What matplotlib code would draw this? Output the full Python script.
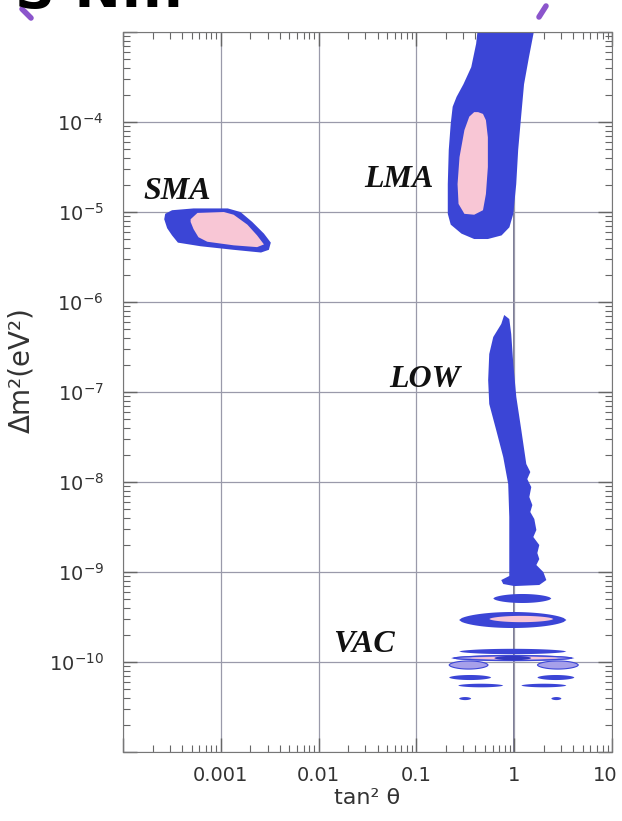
import numpy as np
import matplotlib
matplotlib.use('Agg')
import matplotlib.pyplot as plt
from matplotlib.lines import Line2D
from matplotlib.transforms import ScaledTranslation
from matplotlib.ticker import FixedLocator, NullFormatter, LogLocator

plt.rcParams['font.family'] = ['DejaVu Sans']

# ---- allowed regions as log10(tan^2 theta), log10(dm^2) ----
sma_out_lx = [-3.57, -3.50, -3.28, -2.93, -2.80, -2.68, -2.56, -2.49, -2.51, -2.59, -2.87, -3.21, -3.44, -3.50, -3.55, -3.58]
sma_out_ly = [-5.02, -4.98, -4.96, -4.96, -5.00, -5.11, -5.24, -5.34, -5.42, -5.45, -5.42, -5.38, -5.34, -5.26, -5.18, -5.08]
sma_in_lx = [-3.31, -3.24, -2.97, -2.87, -2.73, -2.63, -2.56, -2.63, -2.87, -3.14, -3.23, -3.28, -3.31]
sma_in_ly = [-5.08, -5.01, -5.00, -5.03, -5.14, -5.26, -5.36, -5.39, -5.37, -5.33, -5.28, -5.19, -5.11]

lma_out_lx = [-0.36, -0.39, -0.44, -0.52, -0.59, -0.63, -0.65, -0.67, -0.68, -0.68, -0.65, -0.54, -0.41, -0.27,
              -0.13, -0.05, -0.01, 0.00, 0.02, 0.04, 0.07, 0.10, 0.15, 0.23]
lma_out_ly = [-2.83, -3.13, -3.39, -3.58, -3.72, -3.83, -4.02, -4.31, -4.69, -5.02, -5.14, -5.24, -5.30, -5.30,
              -5.26, -5.17, -5.02, -4.91, -4.69, -4.31, -3.94, -3.58, -3.28, -2.83]
lma_in_lx = [-0.37, -0.32, -0.29, -0.27, -0.27, -0.29, -0.32, -0.41, -0.51, -0.57, -0.58, -0.56, -0.51, -0.46, -0.41]
lma_in_ly = [-3.89, -3.91, -3.98, -4.17, -4.50, -4.80, -4.98, -5.03, -5.02, -4.91, -4.69, -4.39, -4.09, -3.94, -3.89]

low_lx = [-0.103, -0.051, -0.031, -0.010, 0.021, 0.072, 0.123, 0.164, 0.133, 0.174, 0.154, 0.185, 0.164, 0.205,
          0.226, 0.195, 0.256, 0.236, 0.256, 0.226, 0.297, 0.328, 0.256, 0.0, -0.113, -0.133, -0.051, -0.051,
          -0.051, -0.062, -0.113, -0.185, -0.256, -0.267, -0.256, -0.215, -0.133]
low_ly = [-6.144, -6.189, -6.356, -6.689, -7.056, -7.422, -7.8, -7.889, -7.967, -8.056, -8.167, -8.256, -8.333,
          -8.411, -8.533, -8.611, -8.7, -8.789, -8.856, -8.922, -9.0, -9.089, -9.144, -9.156, -9.133, -9.089,
          -9.044, -8.722, -8.389, -8.022, -7.722, -7.422, -7.133, -6.867, -6.578, -6.389, -6.244]

# VAC islands: left end, right end, centre, half thickness (log10 units)
vac_blue_l = [-0.215, -0.564, -0.564, -0.646, -0.667, 0.236, -0.574, 0.072, -0.564, 0.379]
vac_blue_r = [0.379, 0.533, 0.533, 0.615, -0.236, 0.615, -0.113, 0.533, -0.441, 0.482]
vac_blue_m = [-9.294, -9.533, -9.883, -9.956, -10.172, -10.172, -10.261, -10.261, -10.406, -10.406]
vac_blue_h = [0.05, 0.089, 0.03, 0.035, 0.028, 0.028, 0.02, 0.02, 0.017, 0.017]

vac_lilac_l = [-0.62, -0.667, 0.236]
vac_lilac_r = [0.59, -0.267, 0.656]
vac_lilac_m = [-9.956, -10.033, -10.033]
vac_lilac_h = [0.025, 0.045, 0.045]

vac_pink_l = [-0.256, -0.45]
vac_pink_r = [0.400, 0.45]
vac_pink_m = [-9.522, -9.956]
vac_pink_h = [0.035, 0.015]

vac_dark_l = [-0.205]
vac_dark_r = [0.174]
vac_dark_m = [-9.956]
vac_dark_h = [0.025]

x_ticks = [1e-4, 1e-3, 1e-2, 1e-1, 1, 10]
x_labels = ['', '0.001', '0.01', '0.1', '1', '10']
y_ticks = [10.0 ** k for k in range(-11, -2)]
y_labels = ['', '$10^{-10}$', '$10^{-9}$', '$10^{-8}$', '$10^{-7}$', '$10^{-6}$', '$10^{-5}$', '$10^{-4}$', '']

blue = '#3b45d6'
pink = '#f8c6d5'
lilac = '#a7a0ea'


def lens(l, r, m, h, n=40):
    u = np.linspace(-1, 1, n)
    w = (1 - u ** 2) ** 0.6
    xs = l + (np.concatenate([u, u[::-1]]) + 1) / 2 * (r - l)
    ys = np.concatenate([m + h * w, m - h * w[::-1]])
    return 10 ** xs, 10 ** ys


fig = plt.figure(figsize=(6.22, 8.21), dpi=100)
ax = fig.add_axes([0.198, 0.084, 0.786, 0.877])
ax.set_xscale('log')
ax.set_yscale('log')
ax.set_xlim(1e-4, 10)
ax.set_ylim(1e-11, 1e-3)

ax.grid(which='major', color='#9a9aaa', lw=0.9, zorder=0)
ax.axvline(1, color='#555577', lw=1.1, zorder=0.5)

ax.fill(10 ** np.array(sma_out_lx), 10 ** np.array(sma_out_ly), color=blue, lw=0, zorder=2)
ax.fill(10 ** np.array(sma_in_lx), 10 ** np.array(sma_in_ly), color=pink, lw=0, zorder=3)
ax.fill(10 ** np.array(lma_out_lx), 10 ** np.array(lma_out_ly), color=blue, lw=0, zorder=2)
ax.fill(10 ** np.array(lma_in_lx), 10 ** np.array(lma_in_ly), color=pink, lw=0, zorder=3)
ax.fill(10 ** np.array(low_lx), 10 ** np.array(low_ly), color=blue, lw=0, zorder=2)

for l, r, m, h in zip(vac_blue_l, vac_blue_r, vac_blue_m, vac_blue_h):
    xs, ys = lens(l, r, m, h)
    ax.fill(xs, ys, color=blue, lw=0, zorder=2)
for l, r, m, h in zip(vac_lilac_l, vac_lilac_r, vac_lilac_m, vac_lilac_h):
    xs, ys = lens(l, r, m, h)
    ax.fill(xs, ys, facecolor=lilac, edgecolor=blue, lw=0.8, zorder=3)
for l, r, m, h in zip(vac_pink_l, vac_pink_r, vac_pink_m, vac_pink_h):
    xs, ys = lens(l, r, m, h)
    ax.fill(xs, ys, color=pink, lw=0, zorder=4)
for l, r, m, h in zip(vac_dark_l, vac_dark_r, vac_dark_m, vac_dark_h):
    xs, ys = lens(l, r, m, h)
    ax.fill(xs, ys, color='#3238c0', lw=0, zorder=5)

lab = dict(family='Liberation Serif', style='italic', weight='bold', size=23, color='#111111', zorder=6)
ax.text(10 ** -3.795, 10 ** -4.856, 'SMA', **lab)
ax.text(10 ** -1.538, 10 ** -4.722, 'LMA', **lab)
ax.text(10 ** -1.282, 10 ** -6.944, 'LOW', **lab)
ax.text(10 ** -1.856, 10 ** -9.889, 'VAC', **lab)

ax.xaxis.set_major_locator(FixedLocator(x_ticks))
ax.set_xticklabels(x_labels)
ax.yaxis.set_major_locator(FixedLocator(y_ticks))
ax.set_yticklabels(y_labels)
for axis in (ax.xaxis, ax.yaxis):
    axis.set_minor_locator(LogLocator(base=10, subs=np.arange(2, 10), numticks=20))
    axis.set_minor_formatter(NullFormatter())
ax.tick_params(which='both', direction='in', top=True, right=True, color='#666666', labelcolor='#333333')
ax.tick_params(which='major', length=10, width=1)
ax.tick_params(which='minor', length=5, width=0.8)
ax.tick_params(axis='x', labelsize=14, pad=10)
ax.tick_params(axis='y', labelsize=14, pad=14)
for s in ax.spines.values():
    s.set_color('#777777')

# nudge the last x label so it stays inside the picture
last = ax.get_xticklabels()[-1]
last.set_transform(last.get_transform() + ScaledTranslation(-5 / 72, 0, fig.dpi_scale_trans))

ax.set_xlabel('tan² θ', fontsize=16, color='#333333', labelpad=2)
ax.set_ylabel('Δm²(eV²)', fontsize=20, color='#333333')
ax.yaxis.set_label_coords(-0.18, 0.53)

# cut-off slide title and bracket strokes at the very top
fig.text(15 / 622, 1 - 7 / 821, 'S N...', fontsize=40, weight='bold', color='black', va='baseline')
fig.add_artist(Line2D([22 / 622, 31 / 622], [1 - 9 / 821, 1 - 18 / 821], transform=fig.transFigure,
                      color='#8b55cc', lw=4, solid_capstyle='round'))
fig.add_artist(Line2D([546 / 622, 539 / 622], [1 - 6 / 821, 1 - 17 / 821], transform=fig.transFigure,
                      color='#8b55cc', lw=4, solid_capstyle='round'))

fig.savefig('out.png', dpi=100)
